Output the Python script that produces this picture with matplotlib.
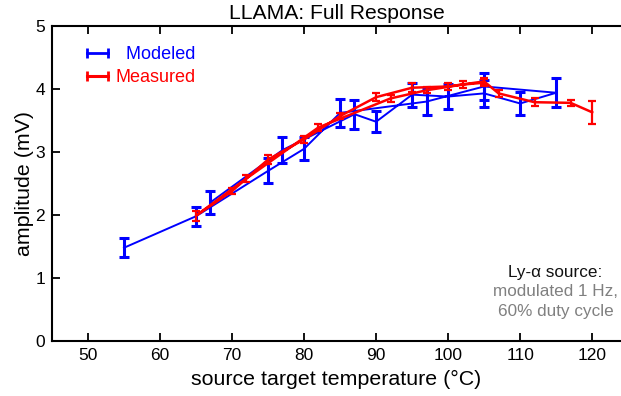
import matplotlib
matplotlib.use('Agg')
import matplotlib.pyplot as plt
from matplotlib.lines import Line2D

plt.rcParams['font.family'] = ['Liberation Sans', 'DejaVu Sans']

# modelado (azul): recorrido de subida y bajada de temperatura
temp_mod = [55, 65, 75, 80, 85, 97, 105, 115, 110, 105, 100, 95, 90, 87, 77, 67]
amp_mod = [1.48, 1.98, 2.70, 3.05, 3.62, 3.80, 4.04, 3.94, 3.77, 3.93, 3.88, 3.91, 3.48, 3.60, 3.03, 2.20]
err_mod = [0.15, 0.15, 0.20, 0.18, 0.22, 0.21, 0.22, 0.23, 0.18, 0.21, 0.20, 0.19, 0.17, 0.23, 0.21, 0.18]

# medido (rojo)
temp_med = [105, 102, 97, 92, 82, 72, 65, 70, 75, 80, 85, 90, 95, 100, 105, 107, 112, 117, 120]
amp_med = [4.10, 4.07, 3.98, 3.85, 3.39, 2.58, 1.99, 2.38, 2.88, 3.20, 3.57, 3.87, 4.02, 4.04, 4.12, 3.93, 3.79, 3.78, 3.63]
err_med = [0.06, 0.05, 0.05, 0.05, 0.05, 0.06, 0.08, 0.05, 0.07, 0.05, 0.05, 0.06, 0.07, 0.06, 0.06, 0.06, 0.06, 0.05, 0.18]

xticks = [50, 60, 70, 80, 90, 100, 110, 120]
yticks = [0, 1, 2, 3, 4, 5]

fig = plt.figure(figsize=(6.21, 3.96), dpi=100)
ax = fig.add_axes([0.0837, 0.1389, 0.9163, 0.7955])

ax.errorbar(temp_mod, amp_mod, yerr=err_mod, color='#0000ff', lw=1.4,
            elinewidth=2.2, capsize=3.6, capthick=2.2, zorder=2)
ax.errorbar(temp_med, amp_med, yerr=err_med, color='#ff0000', lw=1.8,
            elinewidth=1.6, capsize=2.6, capthick=1.6, zorder=3)

ax.set_xlim(45, 124)
ax.set_ylim(0, 5)
ax.set_xticks(xticks)
ax.set_yticks(yticks)
ax.tick_params(direction='in', length=6, width=1.3, labelsize=12.5, pad=5,
               top=True, right=False)
for s in ['left', 'bottom', 'top']:
    ax.spines[s].set_linewidth(1.5)
ax.spines['right'].set_visible(False)

ax.set_xlabel('source target temperature (°C)', fontsize=15.4, labelpad=5)
ax.set_ylabel('amplitude (mV)', fontsize=15.4, labelpad=1)
ax.set_title('LLAMA: Full Response', fontsize=15.2, pad=5)

h1 = Line2D([], [], color='#0000ff', lw=2, marker='|', ms=7.5, mew=2)
h2 = Line2D([], [], color='#ff0000', lw=2.2, marker='|', ms=7.5, mew=2)
leg = ax.legend([h1, h2], ['  Modeled', 'Measured'], loc='upper left',
                bbox_to_anchor=(0.052, 0.935), frameon=False, numpoints=2,
                fontsize=13, handlelength=1.75, handletextpad=0.15,
                labelspacing=0.3, borderpad=0, borderaxespad=0)
for t, c in zip(leg.get_texts(), ['#0000ff', '#ff0000']):
    t.set_color(c)

ax.text(114.9, 1.09, 'Ly-α source:', ha='center', va='center', fontsize=12.3, color='#111111')
ax.text(114.9, 0.785, 'modulated 1 Hz,', ha='center', va='center', fontsize=12.3, color='#808080')
ax.text(114.9, 0.475, '60% duty cycle', ha='center', va='center', fontsize=12.3, color='#808080')

fig.savefig('out.png', dpi=100)
